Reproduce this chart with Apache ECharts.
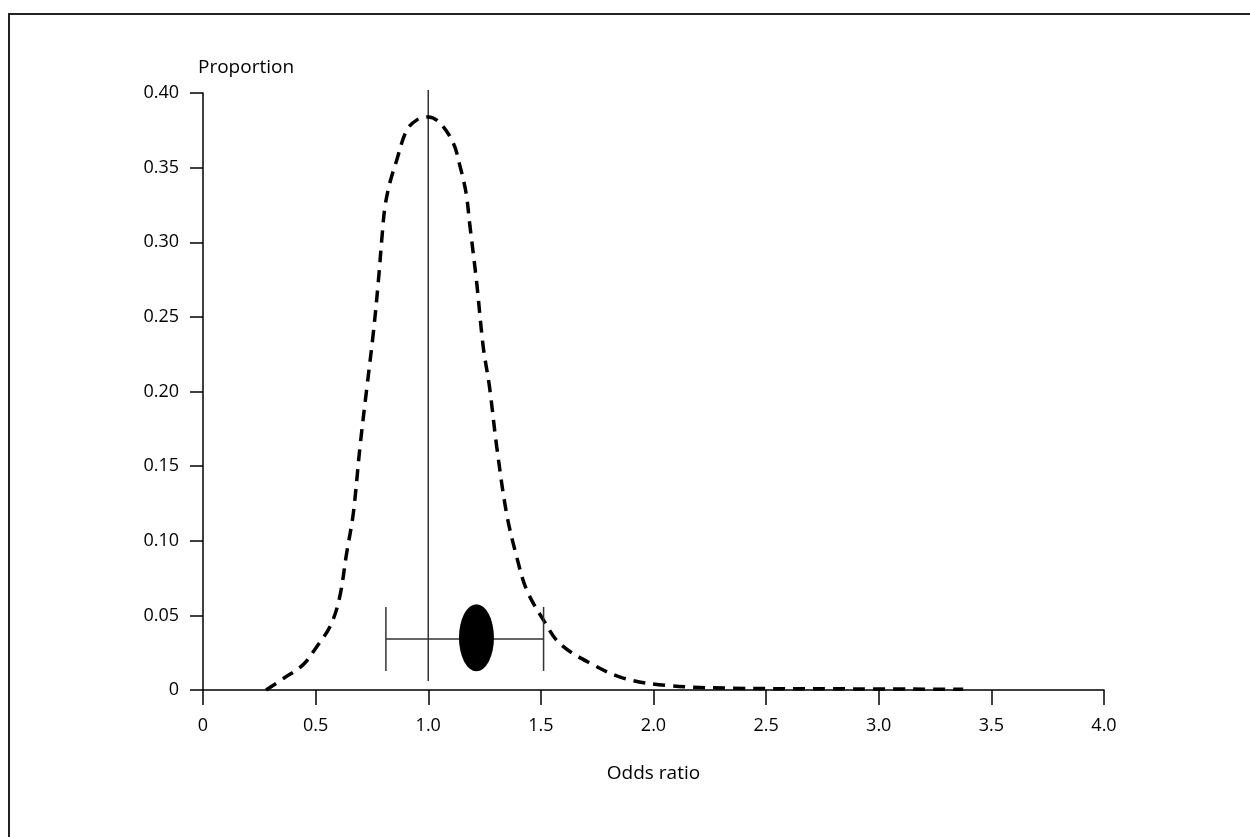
<!DOCTYPE html>
<html>
<head>
<meta charset="utf-8">
<script src="https://cdn.jsdelivr.net/npm/echarts@6/dist/echarts.min.js"></script>
<style>
  html, body { margin: 0; padding: 0; background: #fff; }
  #chart { width: 1250px; height: 837px; }
</style>
</head>
<body>
<div id="chart"></div>
<script>
// density curve: [odds ratio, proportion]
var curveX = [0.28, 0.36, 0.445, 0.505, 0.564, 0.605, 0.638, 0.667, 0.697, 0.727,
              0.756, 0.778, 0.796, 0.808, 0.830, 0.860, 0.904, 0.95, 1.00, 1.052,
              1.111, 1.141, 1.168, 1.185, 1.215, 1.244, 1.272, 1.304, 1.348, 1.393,
              1.437, 1.511, 1.585, 1.718, 1.866, 2.059, 2.354, 2.8, 3.375];
var curveY = [0.0, 0.008, 0.017, 0.029, 0.0425, 0.061, 0.092, 0.118, 0.163, 0.202,
              0.239, 0.273, 0.306, 0.324, 0.340, 0.355, 0.375, 0.382, 0.384, 0.380,
              0.3665, 0.351, 0.333, 0.311, 0.273, 0.230, 0.203, 0.163, 0.118, 0.089,
              0.067, 0.047, 0.031, 0.018, 0.008, 0.003, 0.0012, 0.0008, 0.0005];

// point estimate and interval
var estimate = [1.214, 0.035];
var interval = [0.812, 1.512];
var intervalY = 0.0342;

// reference line at OR = 1
var refLine = [[1.0, 0.006], [1.0, 0.402]];

var xTicks = [0, 0.5, 1.0, 1.5, 2.0, 2.5, 3.0, 3.5, 4.0];
var yTicks = [0, 0.05, 0.10, 0.15, 0.20, 0.25, 0.30, 0.35, 0.40];

var curve = curveX.map(function (x, i) { return [x, curveY[i]]; });

var font = '"Open Sans", Lato, sans-serif';
var chart = echarts.init(document.getElementById('chart'));

chart.setOption({
    animation: false,
    backgroundColor: '#fff',
    grid: { left: 203, right: 146, top: 93, bottom: 147 },
    graphic: [
        {
            type: 'rect',
            shape: { x: 9, y: 14, width: 1300, height: 900 },
            style: { fill: 'none', stroke: '#222', lineWidth: 2 }
        },
        {
            type: 'text',
            left: 198, top: 58,
            style: { text: 'Proportion', font: '19px ' + font, fill: '#000' }
        }
    ],
    xAxis: {
        type: 'value',
        min: xTicks[0], max: xTicks[xTicks.length - 1], interval: 0.5,
        name: 'Odds ratio',
        nameLocation: 'middle',
        nameGap: 74,
        nameTextStyle: { fontFamily: font, fontSize: 19, color: '#000' },
        splitLine: { show: false },
        axisLine: { lineStyle: { color: '#000', width: 1.5 } },
        axisTick: { length: 15, lineStyle: { color: '#000', width: 1.5 } },
        axisLabel: {
            margin: 27, color: '#000', fontFamily: font, fontSize: 18,
            formatter: function (v) { return v === 0 ? '0' : v.toFixed(1); }
        }
    },
    yAxis: {
        type: 'value',
        min: yTicks[0], max: yTicks[yTicks.length - 1], interval: 0.05,
        splitLine: { show: false },
        axisLine: { lineStyle: { color: '#000', width: 1.5 } },
        axisTick: { length: 13, lineStyle: { color: '#000', width: 1.5 } },
        axisLabel: {
            margin: 24, color: '#000', fontFamily: font, fontSize: 18,
            formatter: function (v) { return v === 0 ? '0' : v.toFixed(2); }
        }
    },
    series: [
        {
            type: 'line',
            data: refLine,
            showSymbol: false,
            clip: false,
            lineStyle: { color: '#333', width: 1.5 },
            z: 2
        },
        {
            type: 'line',
            data: curve,
            showSymbol: false,
            smooth: 0.35,
            lineStyle: { color: '#000', width: 3.5, type: [12, 8] },
            z: 3
        },
        {
            type: 'custom',
            data: [[interval[0], interval[1], intervalY]],
            renderItem: function (params, api) {
                var a = api.coord([api.value(0), api.value(2)]);
                var b = api.coord([api.value(1), api.value(2)]);
                var cap = 32;
                var st = { stroke: '#333', lineWidth: 1.5 };
                return {
                    type: 'group',
                    children: [
                        { type: 'line', shape: { x1: a[0], y1: a[1], x2: b[0], y2: b[1] }, style: st },
                        { type: 'line', shape: { x1: a[0], y1: a[1] - cap, x2: a[0], y2: a[1] + cap }, style: st },
                        { type: 'line', shape: { x1: b[0], y1: b[1] - cap, x2: b[0], y2: b[1] + cap }, style: st }
                    ]
                };
            },
            z: 4
        },
        {
            type: 'scatter',
            data: [estimate],
            symbol: 'path://M0,-1 A1,1 0 1,1 0,1 A1,1 0 1,1 0,-1 Z',
            symbolSize: [35, 67],
            itemStyle: { color: '#000', opacity: 1 },
            z: 5
        }
    ]
});
</script>
</body>
</html>
